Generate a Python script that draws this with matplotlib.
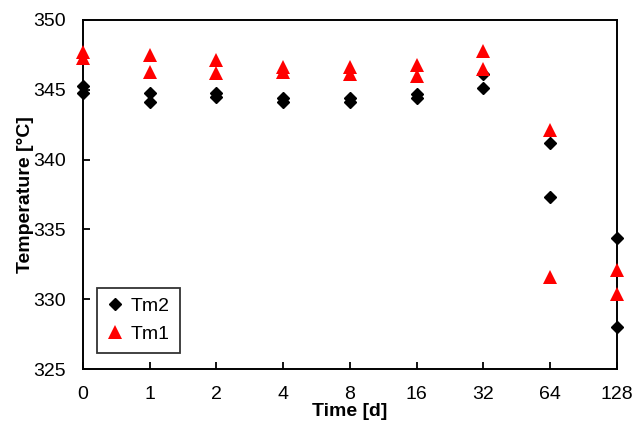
import matplotlib
matplotlib.use("Agg")
import matplotlib.pyplot as plt

# x axis is categorical (log2-like spacing of days)
time_labels = ["0", "1", "2", "4", "8", "16", "32", "64", "128"]

tm2_pos = [0, 0, 1, 1, 2, 2, 3, 3, 4, 4, 5, 5, 6, 6, 7, 7, 8, 8]
tm2_vals = [345.3, 344.8, 344.8, 344.1, 344.8, 344.5, 344.4, 344.1, 344.4, 344.1,
            344.7, 344.4, 346.1, 345.1, 341.2, 337.3, 334.4, 328.0]

tm1_pos = [0, 0, 1, 1, 2, 2, 3, 3, 4, 4, 5, 5, 6, 6, 7, 7, 8, 8]
tm1_vals = [347.7, 347.3, 347.5, 346.3, 347.1, 346.2, 346.6, 346.3, 346.6, 346.1,
            346.8, 346.0, 347.8, 346.5, 342.1, 331.6, 332.1, 330.4]

plt.rcParams['font.family'] = ['Liberation Sans', 'DejaVu Sans']

fig = plt.figure(figsize=(6.33, 4.21), dpi=100)
ax = fig.add_axes([0.1311, 0.1235, 0.8436, 0.829])

ax.plot(tm2_pos, tm2_vals, linestyle='none', marker='D', markersize=6.2,
        color='black', label='Tm2', clip_on=False, zorder=3)
ax.plot(tm1_pos, tm1_vals, linestyle='none', marker='^', markersize=9.5,
        color='#ff0000', markeredgewidth=0, label='Tm1', clip_on=False, zorder=4)

ax.set_xlim(0, 8)
ax.set_ylim(325, 350)
ax.set_xticks(range(len(time_labels)))
ax.set_xticklabels(time_labels)
ax.set_yticks([325, 330, 335, 340, 345, 350])

ax.tick_params(direction='in', length=5, width=1.3, labelsize=14, pad=12)
ax.tick_params(axis='x', pad=12)
for side in ['left', 'bottom', 'right', 'top']:
    ax.spines[side].set_linewidth(1.4)

ax.set_xlabel('Time [d]', fontsize=14, fontweight='bold', labelpad=0)
ax.set_ylabel('Temperature [°C]', fontsize=14, fontweight='bold', labelpad=0)

leg = ax.legend(loc='lower left', bbox_to_anchor=(0.026, 0.046), fontsize=14,
                frameon=True, fancybox=False, edgecolor='black',
                handlelength=0.9, handletextpad=0.35, borderpad=0.5,
                labelspacing=0.55, borderaxespad=0)
leg.get_frame().set_linewidth(1.3)

plt.savefig("out.png", dpi=100)
